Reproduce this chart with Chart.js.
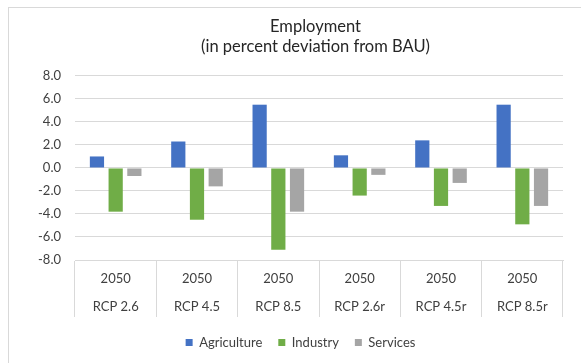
<!DOCTYPE html>
<html>
<head>
<meta charset="utf-8">
<script src="https://cdn.jsdelivr.net/npm/chart.js@4/dist/chart.umd.min.js"></script>
<style>
  html, body { margin: 0; padding: 0; background: #fff; }
  #wrap { position: relative; width: 581px; height: 363px; }
</style>
</head>
<body>
<div id="wrap"><canvas id="employment-chart"></canvas></div>
<script>
// scenario labels (two-level: year / scenario)
const years = ['2050', '2050', '2050', '2050', '2050', '2050'];
const scenarios = ['RCP 2.6', 'RCP 4.5', 'RCP 8.5', 'RCP 2.6r', 'RCP 4.5r', 'RCP 8.5r'];

// percent deviation from BAU
const agriculture = [1.0, 2.3, 5.5, 1.1, 2.4, 5.5];
const industry = [-3.8, -4.5, -7.1, -2.4, -3.3, -4.9];
const services = [-0.7, -1.6, -3.8, -0.6, -1.3, -3.3];

const yTicks = [-8, -6, -4, -2, 0, 2, 4, 6, 8];

const gridColor = '#d9d9d9';
const textColor = '#404040';
const fontFamily = 'Lato, "Open Sans", sans-serif';

// light frame around the chart
const framePlugin = {
  id: 'frame',
  beforeDraw(chart) {
    const ctx = chart.ctx;
    ctx.save();
    ctx.strokeStyle = gridColor;
    ctx.lineWidth = 1;
    ctx.strokeRect(8.5, 7.5, chart.width + 20, chart.height + 20);
    ctx.restore();
  }
};

// nudge title and legend sideways (they sit over the plot, not the page)
const shiftPlugin = {
  id: 'shiftBoxes',
  afterLayout(chart) {
    const move = (box, dx) => {
      if (!box) return;
      box.left += dx;
      box.right += dx;
    };
    move(chart.titleBlock, 34);
    move(chart.legend, 19);
  }
};

new Chart(document.querySelector('#employment-chart'), {
  type: 'bar',
  data: {
    labels: years.map((y, i) => [y, scenarios[i]]),
    datasets: [
      { label: 'Agriculture', data: agriculture, backgroundColor: '#4472c4' },
      { label: 'Industry', data: industry, backgroundColor: '#70ad47' },
      { label: 'Services', data: services, backgroundColor: '#a5a5a5' }
    ]
  },
  options: {
    responsive: true,
    maintainAspectRatio: false,
    animation: false,
    datasets: {
      bar: { categoryPercentage: 0.69, barPercentage: 0.76 }
    },
    layout: {
      padding: { left: 0, right: 18, top: 0, bottom: 4 }
    },
    scales: {
      x: {
        offset: true,
        grid: {
          offset: true,
          drawOnChartArea: false,
          drawTicks: true,
          tickLength: 57,
          color: gridColor
        },
        border: { display: true, color: gridColor },
        ticks: {
          padding: -52,
          color: textColor,
          font: { family: fontFamily, size: 13, lineHeight: 2.13 },
          maxRotation: 0,
          autoSkip: false
        },
        afterFit: scale => { scale.height = 60; }
      },
      y: {
        min: -8,
        max: 8,
        afterBuildTicks: scale => {
          scale.ticks = yTicks.map(v => ({ value: v }));
        },
        grid: { color: gridColor, drawTicks: false },
        border: { display: false },
        ticks: {
          padding: 14,
          color: textColor,
          font: { family: fontFamily, size: 13 },
          callback: value => value.toFixed(1)
        },
        afterFit: scale => { scale.width = 75; }
      }
    },
    plugins: {
      title: {
        display: true,
        text: ['Employment', '(in percent deviation from BAU)'],
        color: '#262626',
        font: { family: fontFamily, size: 16.5, weight: 'normal', lineHeight: 1.21 },
        padding: { top: 17, bottom: 19 }
      },
      legend: {
        position: 'bottom',
        labels: {
          color: textColor,
          font: { family: fontFamily, size: 13 },
          boxWidth: 7,
          boxHeight: 7,
          padding: 16
        }
      },
      tooltip: { enabled: false }
    }
  },
  plugins: [framePlugin, shiftPlugin]
});
</script>
</body>
</html>
